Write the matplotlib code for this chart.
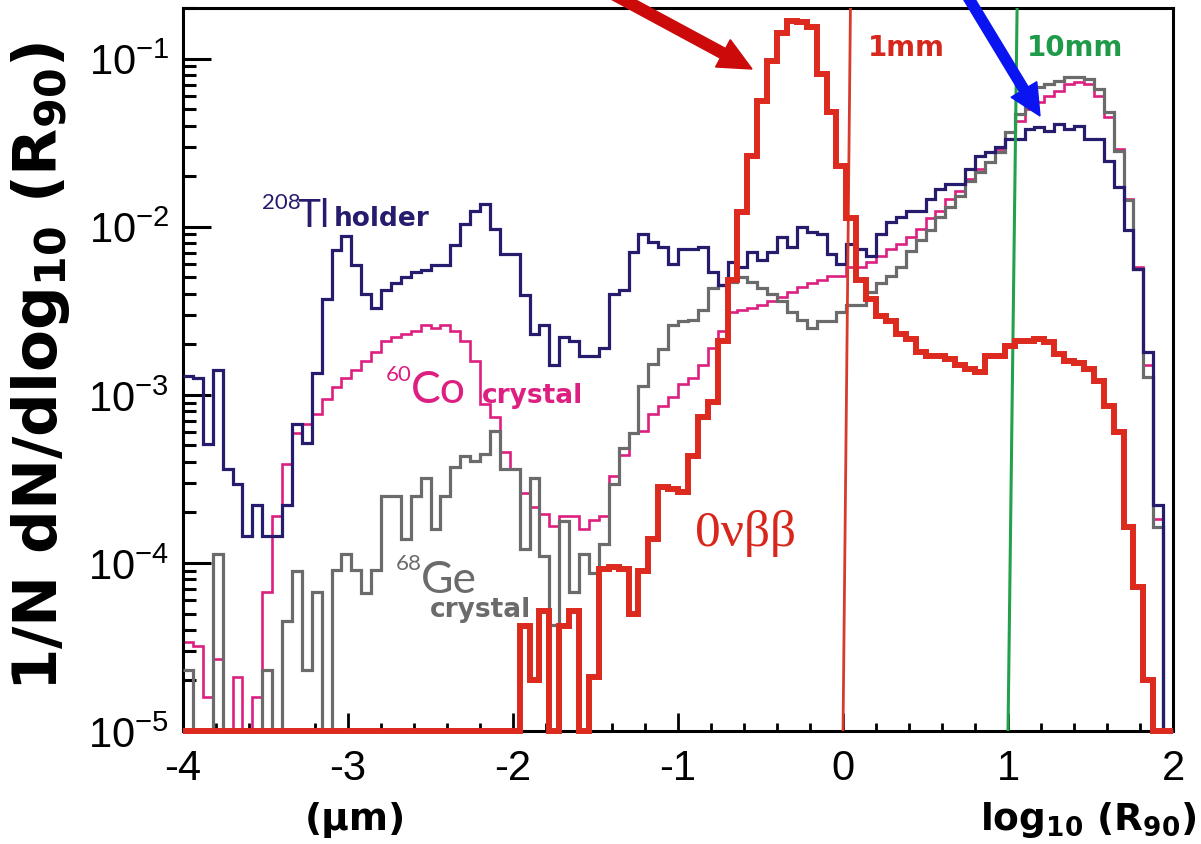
import numpy as np
import matplotlib
matplotlib.use('Agg')
import matplotlib.pyplot as plt
from matplotlib.ticker import LogLocator, MultipleLocator, NullFormatter
from matplotlib.patches import FancyArrow

plt.rcParams['font.family'] = ['Liberation Sans Narrow', 'Liberation Sans', 'DejaVu Sans']
plt.rcParams['axes.unicode_minus'] = False
plt.rcParams['mathtext.fontset'] = 'dejavusans'

# 100 bins in log10(R90), from -4 to 2
bin_edges = np.linspace(-4, 2, 101)

# 208Tl holder (navy)
tl208_holder = [
    1.3e-3, 1.26e-3, 5.1e-4, 1.4e-3, 3.6e-4, 2.95e-4, 1.45e-4, 2.2e-4, 1.45e-4, 1.45e-4,
    2.2e-4, 6.7e-4, 5.2e-4, 1.35e-3, 3.7e-3, 7.3e-3, 8.8e-3, 5.9e-3, 4.0e-3, 3.3e-3,
    4.2e-3, 4.6e-3, 5.0e-3, 5.4e-3, 5.5e-3, 5.9e-3, 5.9e-3, 7.8e-3, 1.04e-2, 1.24e-2,
    1.37e-2, 9.7e-3, 6.9e-3, 6.9e-3, 3.9e-3, 2.3e-3, 2.6e-3, 1.5e-3, 2.2e-3, 2.1e-3,
    1.7e-3, 1.7e-3, 1.9e-3, 4.0e-3, 4.2e-3, 7.1e-3, 9.1e-3, 8.1e-3, 7.6e-3, 6.0e-3,
    7.4e-3, 7.4e-3, 7.6e-3, 5.4e-3, 4.5e-3, 6.2e-3, 5.8e-3, 7.1e-3, 6.3e-3, 7.1e-3,
    8.7e-3, 7.6e-3, 1.0e-2, 9.3e-3, 9.1e-3, 6.9e-3, 6.0e-3, 7.9e-3, 7.4e-3, 6.7e-3,
    9.1e-3, 1.07e-2, 1.15e-2, 1.24e-2, 1.24e-2, 1.47e-2, 1.68e-2, 1.80e-2, 1.80e-2, 2.21e-2,
    2.65e-2, 2.79e-2, 2.99e-2, 3.34e-2, 3.34e-2, 3.83e-2, 3.94e-2, 3.73e-2, 4.10e-2, 3.83e-2,
    4.0e-2, 3.34e-2, 3.34e-2, 2.47e-2, 1.73e-2, 9.5e-3, 5.6e-3, 1.8e-3, 2.2e-4, 0,
]

# 60Co crystal (magenta)
co60_crystal = [
    3.4e-5, 3.2e-5, 1.6e-5, 2.7e-5, 0, 2.1e-5, 0, 1.6e-5, 6.7e-5, 1.9e-4,
    3.9e-4, 5.9e-4, 6.7e-4, 7.7e-4, 9.5e-4, 1.12e-3, 1.26e-3, 1.4e-3, 1.6e-3, 1.8e-3,
    2.1e-3, 2.2e-3, 2.3e-3, 2.4e-3, 2.6e-3, 2.5e-3, 2.6e-3, 2.4e-3, 2.1e-3, 1.6e-3,
    8.8e-4, 7.4e-4, 4.6e-4, 3.6e-4, 2.6e-4, 2.15e-4, 1.96e-4, 1.66e-4, 1.9e-4, 1.9e-4,
    1.6e-4, 1.8e-4, 1.9e-4, 3.3e-4, 4.4e-4, 5.9e-4, 6.1e-4, 7.7e-4, 8.6e-4, 9.7e-4,
    1.16e-3, 1.26e-3, 1.5e-3, 1.9e-3, 2.4e-3, 3.1e-3, 3.2e-3, 3.3e-3, 3.4e-3, 3.6e-3,
    3.8e-3, 4.1e-3, 4.4e-3, 4.6e-3, 4.8e-3, 5.1e-3, 5.1e-3, 5.8e-3, 5.8e-3, 6.2e-3,
    6.7e-3, 7.4e-3, 7.9e-3, 8.7e-3, 9.7e-3, 1.12e-2, 1.24e-2, 1.47e-2, 1.64e-2, 1.93e-2,
    2.21e-2, 2.44e-2, 2.91e-2, 3.34e-2, 4.28e-2, 5.03e-2, 5.55e-2, 6.03e-2, 6.46e-2, 7.1e-2,
    7.3e-2, 7.1e-2, 6.0e-2, 4.5e-2, 2.9e-2, 1.47e-2, 5.8e-3, 1.5e-3, 1.83e-4, 0,
]

# 68Ge crystal (gray)
ge68_crystal = [
    2.3e-5, 0, 0, 1.13e-4, 0, 0, 0, 0, 2.3e-5, 0,
    4.5e-5, 9.0e-5, 2.3e-5, 6.7e-5, 0, 9.1e-5, 1.13e-4, 9.1e-5, 6.6e-5, 9.1e-5,
    2.5e-4, 2.5e-4, 1.39e-4, 2.5e-4, 3.2e-4, 1.6e-4, 2.5e-4, 3.7e-4, 4.3e-4, 4.05e-4,
    4.45e-4, 6.1e-4, 3.6e-4, 3.6e-4, 1.21e-4, 3.2e-4, 1.1e-4, 4.3e-5, 1.78e-4, 6.7e-5,
    1.13e-4, 8.7e-5, 1.3e-4, 2.95e-4, 4.8e-4, 5.9e-4, 1.13e-3, 1.53e-3, 1.88e-3, 2.6e-3,
    2.75e-3, 2.8e-3, 3.2e-3, 4.3e-3, 4.5e-3, 4.7e-3, 5.0e-3, 4.7e-3, 4.3e-3, 4.0e-3,
    3.6e-3, 3.1e-3, 2.8e-3, 2.5e-3, 2.75e-3, 2.75e-3, 3.1e-3, 3.4e-3, 3.4e-3, 4.1e-3,
    4.6e-3, 5.1e-3, 5.8e-3, 7.2e-3, 8.3e-3, 9.5e-3, 1.15e-2, 1.31e-2, 1.53e-2, 1.88e-2,
    2.12e-2, 2.44e-2, 2.79e-2, 3.67e-2, 4.71e-2, 5.94e-2, 6.81e-2, 7.1e-2, 7.4e-2, 7.8e-2,
    7.8e-2, 7.6e-2, 6.6e-2, 4.8e-2, 2.83e-2, 1.45e-2, 5.6e-3, 1.28e-3, 1.64e-4, 0,
]

# 0vbb signal (red)
signal_0vbb = [
    0, 0, 0, 0, 0, 0, 0, 0, 0, 0,
    0, 0, 0, 0, 0, 0, 0, 0, 0, 0,
    0, 0, 0, 0, 0, 0, 0, 0, 0, 0,
    0, 0, 0, 0, 4.2e-5, 2.0e-5, 5.2e-5, 0, 4.2e-5, 5.2e-5,
    0, 2.1e-5, 9.2e-5, 9.5e-5, 9.2e-5, 5.0e-5, 9.0e-5, 1.39e-4, 2.83e-4, 2.75e-4,
    2.65e-4, 4.34e-4, 7.4e-4, 9.1e-4, 2.1e-3, 4.84e-3, 1.23e-2, 2.65e-2, 5.6e-2, 9.7e-2,
    0.143, 0.168, 0.165, 0.155, 8.1e-2, 4.84e-2, 2.31e-2, 1.12e-2, 4.8e-3, 3.7e-3,
    2.95e-3, 2.75e-3, 2.3e-3, 2.15e-3, 1.8e-3, 1.7e-3, 1.7e-3, 1.64e-3, 1.51e-3, 1.43e-3,
    1.37e-3, 1.71e-3, 1.71e-3, 1.96e-3, 2.1e-3, 2.1e-3, 2.15e-3, 2.05e-3, 1.76e-3, 1.6e-3,
    1.54e-3, 1.43e-3, 1.21e-3, 8.6e-4, 6.0e-4, 1.64e-4, 7.2e-5, 2.0e-5, 0, 0,
]

ymin, ymax = 1e-5, 0.2

fig = plt.figure(figsize=(12.01, 8.45), dpi=100)
ax = fig.add_axes([0.1524, 0.1337, 0.8243, 0.8556])
ax.set_yscale('log')

# empty bins sit on the bottom of the log axis, like ROOT does
def floor(v):
    return np.clip(np.asarray(v, dtype=float), ymin, None)

ax.stairs(floor(co60_crystal), bin_edges, baseline=None, color='#dc1f80', lw=1.9, clip_on=False, zorder=2)
ax.stairs(floor(ge68_crystal), bin_edges, baseline=None, color='#6b6b6b', lw=2.3, clip_on=False, zorder=3)
ax.stairs(floor(tl208_holder), bin_edges, baseline=None, color='#261c6e', lw=2.3, clip_on=False, zorder=4)
ax.stairs(floor(signal_0vbb), bin_edges, baseline=None, color='#dd2a1f', lw=4.3, clip_on=False, zorder=6)

# 1 mm and 10 mm marker lines (slightly tilted in the original)
ax.plot([0.0, 0.045], [ymin, ymax], color='#d83a2c', lw=2, zorder=5)
ax.plot([1.0, 1.055], [ymin, ymax], color='#22a04b', lw=2.2, zorder=5)

ax.set_xlim(-4, 2)
ax.set_ylim(ymin, ymax)

ax.xaxis.set_major_locator(MultipleLocator(1))
ax.xaxis.set_minor_locator(MultipleLocator(0.2))
ax.yaxis.set_major_locator(LogLocator(base=10, numticks=10))
ax.yaxis.set_minor_locator(LogLocator(base=10, subs=np.arange(2, 10), numticks=20))
ax.yaxis.set_minor_formatter(NullFormatter())

ax.tick_params(axis='y', which='major', direction='in', length=20, width=2.2, labelsize=30, pad=10)
ax.tick_params(axis='y', which='minor', direction='in', length=9, width=2.2)
ax.tick_params(axis='x', which='major', direction='in', length=13, width=2, labelsize=30, pad=12)
ax.tick_params(axis='x', which='minor', direction='in', length=6, width=2)
for s in ax.spines.values():
    s.set_linewidth(2.2)

# curve labels
navy, mag, gray = '#261c6e', '#dc1f80', '#6b6b6b'
thin = ['Lato', 'DejaVu Sans']
ax.text(0.080, 0.732, '208', transform=ax.transAxes, color=navy, fontsize=16, family=thin, va='center')
ax.text(0.115, 0.714, 'Tl', transform=ax.transAxes, color=navy, fontsize=28, family=thin, va='center')
ax.text(0.152, 0.710, 'holder', transform=ax.transAxes, color=navy, fontsize=19, fontweight='bold', family='DejaVu Sans', va='center')
ax.text(0.205, 0.494, '60', transform=ax.transAxes, color=mag, fontsize=16, family=thin, va='center')
ax.text(0.230, 0.472, 'Co', transform=ax.transAxes, color=mag, fontsize=32, family=thin, va='center')
ax.text(0.302, 0.465, 'crystal', transform=ax.transAxes, color=mag, fontsize=19, fontweight='bold', family='DejaVu Sans', va='center')
ax.text(0.215, 0.233, '68', transform=ax.transAxes, color=gray, fontsize=16, family=thin, va='center')
ax.text(0.240, 0.209, 'Ge', transform=ax.transAxes, color=gray, fontsize=32, family=thin, va='center')
ax.text(0.2495, 0.169, 'crystal', transform=ax.transAxes, color=gray, fontsize=19, fontweight='bold', family='DejaVu Sans', va='center')
ax.text(0.517, 0.275, '0\u03bd\u03b2\u03b2', transform=ax.transAxes, color='#d8261c', fontsize=37, family='Liberation Serif', va='center')
ax.text(0.692, 0.946, '1mm', transform=ax.transAxes, color='#d7281e', fontsize=20, fontweight='bold', family='DejaVu Sans', va='center')
ax.text(0.8525, 0.946, '10mm', transform=ax.transAxes, color='#1e9a48', fontsize=20, fontweight='bold', family='DejaVu Sans', va='center')

# axis titles
fig.text(0.034, 0.566, r'1/N dN/dlog$_{\mathbf{10}}$ (R$_{\mathbf{90}}$)', rotation=90,
         fontsize=44, fontweight='bold', family='DejaVu Sans', ha='center', va='center')
fig.text(355 / 1201, 0.03, '(\u00b5m)', fontsize=27, fontweight='bold', family='DejaVu Sans', ha='center', va='center')
fig.text(0.996, 0.03, r'log$_{\mathbf{10}}$ (R$_{\mathbf{90}}$)', fontsize=27, fontweight='bold',
         family='DejaVu Sans', ha='right', va='center')

# pointer arrows coming in from the top edge (inch coordinates)
fig.add_artist(FancyArrow(5.76, 8.70, 1.76, -0.95, width=0.11, head_width=0.31, head_length=0.33,
                          length_includes_head=True, color='#cc0a0a', transform=fig.dpi_scale_trans))
fig.add_artist(FancyArrow(9.57, 8.65, 0.83, -1.37, width=0.10, head_width=0.30, head_length=0.31,
                          length_includes_head=True, color='#0a14f0', transform=fig.dpi_scale_trans))

fig.savefig('out.png', dpi=100)
